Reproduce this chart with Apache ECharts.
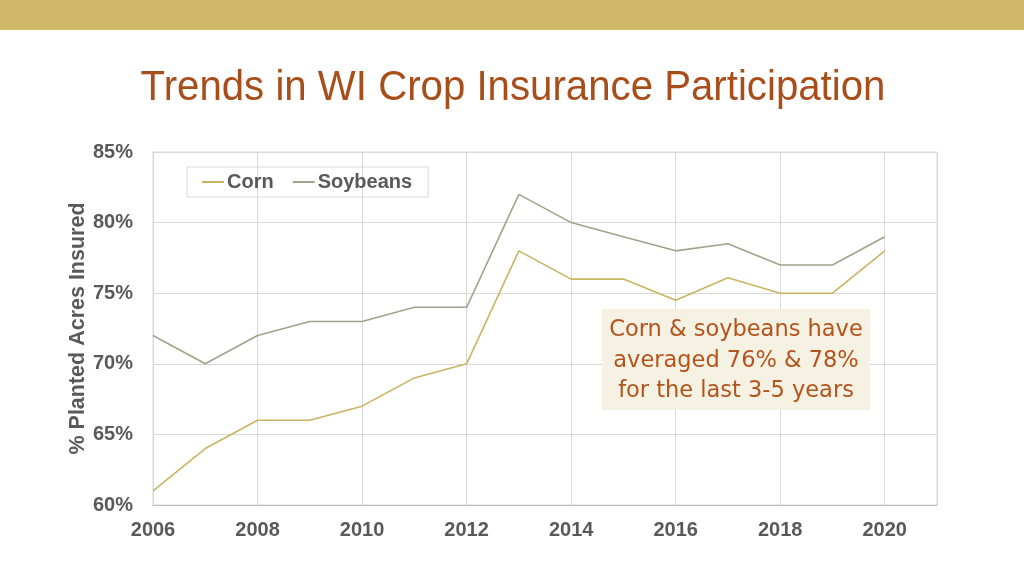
<!DOCTYPE html>
<html><head><meta charset="utf-8">
<script src="https://cdn.jsdelivr.net/npm/echarts@6/dist/echarts.min.js"></script>
<style>html,body{margin:0;padding:0;background:#fff}#c{width:1024px;height:576px}</style>
</head><body><div id="c"></div>
<script>
const years = [2006,2007,2008,2009,2010,2011,2012,2013,2014,2015,2016,2017,2018,2019,2020];
const corn = [61,64,66,66,67,69,70,78,76,76,74.5,76.1,75,75,78];
const soybeans = [72,70,72,73,73,74,74,82,80,79,78,78.5,77,77,79];
const yTicks = [60,65,70,75,80,85];
const title = 'Trends in WI Crop Insurance Participation';
const note = 'Corn & soybeans have\naveraged 76% & 78%\nfor the last 3-5 years';

const chart = echarts.init(document.getElementById('c'));
const lbl = {color:'#595959', fontWeight:'bold', fontSize:20, fontFamily:'Liberation Sans, Arial, sans-serif'};
chart.setOption({
  animation:false,
  graphic:[
    {type:'rect', shape:{x:0,y:0,width:1024,height:30}, style:{fill:'#CFB868'}},
    {type:'text', x:513, y:88, scaleX:0.935, style:{text:title, fill:'#A84E1A', font:'43px "Liberation Sans", Arial, sans-serif', align:'center', verticalAlign:'middle'}},
    {type:'rect', shape:{x:602,y:309,width:268,height:101}, style:{fill:'#F5F1E3'}, z:10},
    {type:'text', x:736, y:361, z:11, style:{text:note, fill:'#B5531B', font:'22.5px "DejaVu Sans", Verdana, sans-serif', align:'center', verticalAlign:'middle', lineHeight:30.5}}
  ],
  grid:{left:153, right:87, top:152, bottom:71, show:true, borderColor:'#d9d9d9', borderWidth:1},
  legend:{left:187, top:167, padding:[5,16,5,14], itemGap:18, itemWidth:22, itemHeight:2,
    borderColor:'#d9d9d9', borderWidth:1, textStyle:Object.assign({}, lbl, {padding:[0,0,0,-2]}),
    data:['Corn','Soybeans']},
  xAxis:{type:'value', min:2006, max:2021, interval:2,
    axisLine:{lineStyle:{color:'#bfbfbf'}}, axisTick:{show:false},
    splitLine:{lineStyle:{color:'#d9d9d9'}},
    axisLabel:Object.assign({}, lbl, {margin:15, showMaxLabel:false, formatter:v=> v===2021 ? '' : String(v)})},
  yAxis:{type:'value', min:60, max:85, interval:5,
    name:'% Planted Acres Insured', nameLocation:'middle', nameGap:64, nameMoveOverlap:false,
    nameTextStyle:Object.assign({}, lbl, {fontSize:21.5}),
    axisLine:{show:false}, axisTick:{show:false},
    splitLine:{lineStyle:{color:'#d9d9d9'}},
    axisLabel:Object.assign({}, lbl, {margin:20, formatter:v=> yTicks.includes(v) ? v+'%' : ''})},
  series:[
    {name:'Corn', type:'line', symbol:'none', data:years.map((y,i)=>[y,corn[i]]), lineStyle:{color:'#C9B462', width:1.6}, itemStyle:{color:'#C9B462'}},
    {name:'Soybeans', type:'line', symbol:'none', data:years.map((y,i)=>[y,soybeans[i]]), lineStyle:{color:'#9FA48A', width:1.6}, itemStyle:{color:'#9FA48A'}}
  ]
});
</script></body></html>
